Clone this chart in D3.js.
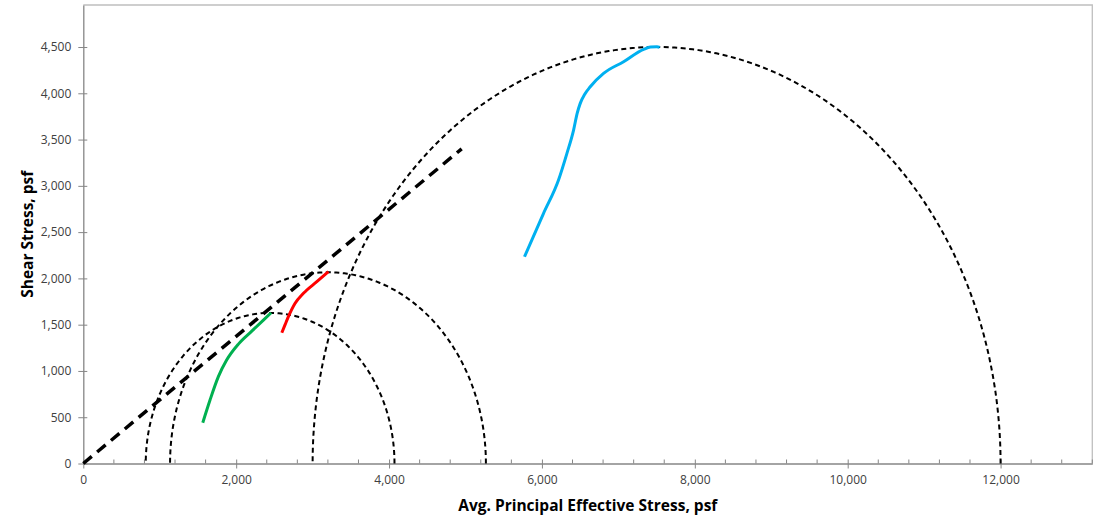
<!DOCTYPE html>
<html><head><meta charset="utf-8">
<script src="https://cdn.jsdelivr.net/npm/d3@7"></script>
<style>body{margin:0;background:#fff;} svg{display:block;}</style>
</head><body><svg id="c" width="1093" height="521"></svg>
<script>
// Data
const xTicks = [0, 2000, 4000, 6000, 8000, 10000, 12000];
const yTicks = [0, 500, 1000, 1500, 2000, 2500, 3000, 3500, 4000, 4500];
const circleCenters = [2444, 3201, 7500];
const circleRadii = [1627, 2066, 4500];
const failureLine = [[0, 0], [4950, 3400]];
const greenPath = [[1563,441],[1658,686],[1767,938],[1877,1120],[2029,1290],[2204,1430],[2356,1550],[2457,1629]];
const redPath = [[2597,1413],[2640,1500],[2683,1586],[2771,1731],[2880,1839],[3055,1964],[3207,2072]];
const bluePath = [[5772,2234],[6021,2703],[6217,3063],[6327,3351],[6414,3603],[6460,3780],[6501,3891],[6560,3990],[6632,4071],[6806,4215],[7068,4341],[7330,4475],[7420,4500],[7505,4503],[7540,4495]];
const xTitle = "Avg. Principal Effective Stress, psf";
const yTitle = "Shear Stress, psf";

const svg = d3.select("#c");
const L = 83.3, R = 1092.3, T = 5, B = 463.5;
const x = d3.scaleLinear().domain([0, 13200]).range([L, R]);
const y = d3.scaleLinear().domain([0, 4954]).range([B, T]);
const fmt = d3.format(",");
const font = "'Open Sans', 'Noto Sans', sans-serif";

// plot border (top/right)
svg.append("path").attr("d", `M${L},${T}H${R}V${B}`).attr("fill","none").attr("stroke","#bfbfbf").attr("stroke-width",1.3);

// minor x ticks
const minor = d3.range(400, 13201, 400).filter(v => v % 2000 !== 0);
svg.append("g").selectAll("line").data(minor).join("line")
  .attr("x1", d => x(d)).attr("x2", d => x(d)).attr("y1", B-4).attr("y2", B)
  .attr("stroke","#868686").attr("stroke-width",1);

// x axis
const xa = svg.append("g").attr("transform", `translate(0,${B})`)
  .call(d3.axisBottom(x).tickValues(xTicks).tickFormat(fmt).tickSizeInner(5).tickSizeOuter(0));
xa.selectAll("line").attr("y1",-4).attr("stroke","#868686");
xa.select(".domain").attr("stroke","#868686").attr("stroke-width",1.3);
xa.selectAll("text").attr("font-family",font).attr("font-size",12).attr("fill","#404040").attr("dy","1.05em");

// y axis
const ya = svg.append("g").attr("transform", `translate(${L},0)`)
  .call(d3.axisLeft(y).tickValues(yTicks).tickFormat(fmt).tickSizeInner(5).tickSizeOuter(0));
ya.selectAll("line").attr("x1",4).attr("stroke","#868686");
ya.select(".domain").attr("stroke","#868686").attr("stroke-width",1.3);
ya.selectAll("text").attr("font-family",font).attr("font-size",12).attr("fill","#404040").attr("x",-12);

// Mohr circles
const circleData = circleCenters.map((c,i) => d3.range(0, 181, 1).map(a => {
  const t = a*Math.PI/180; return [c + circleRadii[i]*Math.cos(t), circleRadii[i]*Math.sin(t)];
}));
const line = d3.line().x(d => x(d[0])).y(d => y(d[1]));
svg.append("g").selectAll("path").data(circleData).join("path")
  .attr("d", line).attr("fill","none").attr("stroke","#000").attr("stroke-width",2).attr("stroke-dasharray","5,3.5");

// failure line
svg.append("path").attr("d", line(failureLine)).attr("fill","none").attr("stroke","#000")
  .attr("stroke-width",3.5).attr("stroke-dasharray","11,7");

// stress paths
const smooth = d3.line().x(d => x(d[0])).y(d => y(d[1])).curve(d3.curveMonotoneX);
[[greenPath,"#00B050"],[redPath,"#FF0000"],[bluePath,"#00B0F0"]].forEach(([p,c]) => {
  svg.append("path").attr("d", smooth(p)).attr("fill","none").attr("stroke",c).attr("stroke-width",3).attr("stroke-linejoin","round");
});

// titles
svg.append("text").attr("x",(L+R)/2).attr("y",511).attr("text-anchor","middle")
  .attr("font-family",font).attr("font-weight","bold").attr("font-size",15.5).attr("fill","#000").text(xTitle);
svg.append("text").attr("transform",`translate(33,${(T+B)/2}) rotate(-90)`).attr("text-anchor","middle")
  .attr("font-family",font).attr("font-weight","bold").attr("font-size",15.5).attr("fill","#000").text(yTitle);
</script></body></html>
